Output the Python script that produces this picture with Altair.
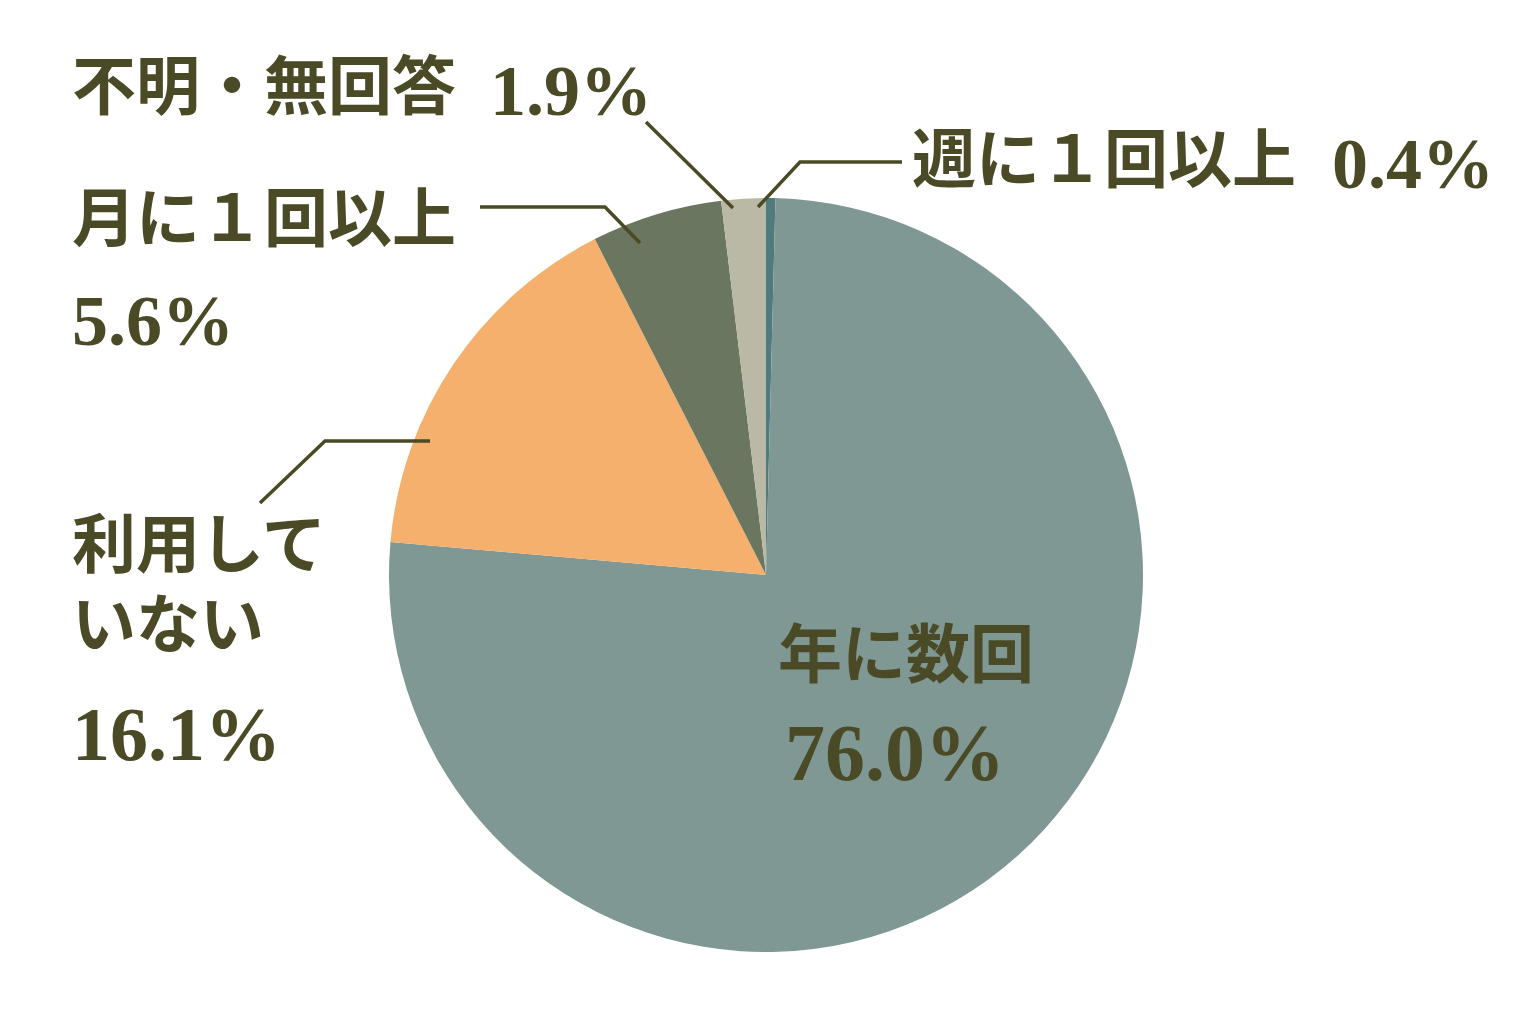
import altair as alt
import pandas as pd

# clockwise from 12 o'clock
categories = ["週に１回以上", "年に数回", "利用していない", "月に１回以上", "不明・無回答"]
shares = [0.4, 76.0, 16.1, 5.6, 1.9]
colors = ["#4F7B7C", "#7F9894", "#F4B06C", "#6B7661", "#B9B9A6"]

ink = "#4B4A26"
jp_font = "Noto Sans CJK JP"
num_font = "Liberation Serif"
cx, cy, radius = 758, 567, 377

pie_df = pd.DataFrame(
    {"category": categories, "share": shares, "order": list(range(len(categories)))}
)

pie = (
    alt.Chart(pie_df)
    .mark_arc(outerRadius=radius)
    .encode(
        theta=alt.Theta("share:Q", stack=True),
        order=alt.Order("order:Q"),
        color=alt.Color(
            "category:N",
            scale=alt.Scale(domain=categories, range=colors),
            legend=None,
        ),
        x=alt.value(cx),
        y=alt.value(cy),
    )
)

# label placement (pixels in the chart area); multi-line names as lists
name_lines = [
    (["週に１回以上"], 904, 155),
    (["年に数回"], 770, 650),
    (["利用して", "いない"], 64, 540),
    (["月に１回以上"], 64, 214),
    (["不明・無回答"], 64, 82),
]
number_pos = [(1324, 180), (777, 772), (64, 752), (64, 337), (482, 107)]
number_size = [72, 80, 76, 72, 72]

names_df = pd.DataFrame(name_lines, columns=["text", "px", "py"])
numbers_df = pd.DataFrame(
    {
        "text": [f"{v:.1f}%" for v in shares],
        "px": [p[0] for p in number_pos],
        "py": [p[1] for p in number_pos],
        "size": number_size,
    }
)

names = (
    alt.Chart(names_df)
    .mark_text(align="left", baseline="middle", font=jp_font, fontWeight="bold",
               fontSize=64, lineHeight=80, color=ink)
    .encode(
        x=alt.X("px:Q", scale=None),
        y=alt.Y("py:Q", scale=None),
        text="text",
    )
)

numbers = (
    alt.Chart(numbers_df)
    .mark_text(align="left", baseline="alphabetic", font=num_font,
               fontWeight="bold", color=ink)
    .encode(
        x=alt.X("px:Q", scale=None),
        y=alt.Y("py:Q", scale=None),
        size=alt.Size("size:Q", scale=None, legend=None),
        text="text:N",
    )
)

# leader lines: label end -> bend -> slice
leaders = [
    ("週", [(894, 154), (792, 154), (750, 199)]),
    ("不明", [(638, 114), (725, 200)]),
    ("月", [(472, 199), (597, 199), (632, 235)]),
    ("利用", [(252, 495), (317, 433), (422, 433)]),
]
leader_rows = []
for name, pts in leaders:
    for i, (px, py) in enumerate(pts):
        leader_rows.append({"g": name, "i": i, "px": px, "py": py})
leader_df = pd.DataFrame(leader_rows)

lines = (
    alt.Chart(leader_df)
    .mark_line(color=ink, strokeWidth=3.5)
    .encode(
        x=alt.X("px:Q", scale=None),
        y=alt.Y("py:Q", scale=None),
        detail="g:N",
        order="i:Q",
    )
)

chart = (
    alt.layer(pie, lines, names, numbers)
    .properties(width=1512, height=1000, padding=0, autosize="none")
    .configure_view(stroke=None)
)

chart.save("out.html", embed_options={"renderer": "svg", "actions": False})
